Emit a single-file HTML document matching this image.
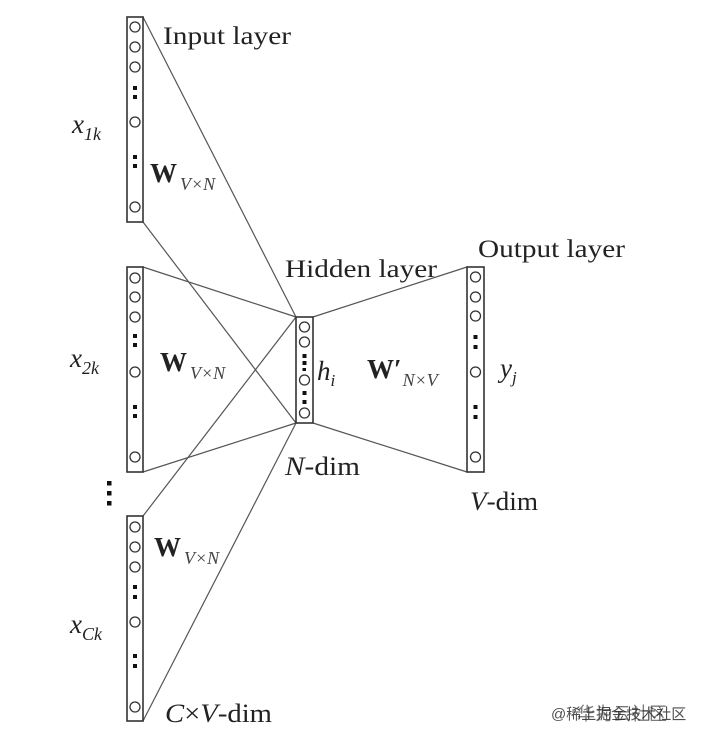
<!DOCTYPE html>
<html><head><meta charset="utf-8"><style>
html,body{margin:0;padding:0;background:#fff;width:702px;height:739px;overflow:hidden}
svg{display:block}
text{font-family:"Liberation Serif",serif;fill:#222}
</style></head><body>
<svg width="702" height="739" viewBox="0 0 702 739" xmlns="http://www.w3.org/2000/svg">
<g stroke="#555" stroke-width="1.2" fill="none">
<line x1="143" y1="17" x2="296" y2="317"/>
<line x1="143" y1="222" x2="296" y2="423"/>
<line x1="143" y1="267" x2="296" y2="317"/>
<line x1="143" y1="472" x2="296" y2="423"/>
<line x1="143" y1="516" x2="296" y2="317"/>
<line x1="143" y1="721" x2="296" y2="423"/>
<line x1="313" y1="317" x2="467" y2="267"/>
<line x1="313" y1="423" x2="467" y2="472"/>
</g>
<g stroke="#333" stroke-width="1.6" fill="#fff">
<rect x="127" y="17" width="16" height="205"/>
<rect x="127" y="267" width="16" height="205"/>
<rect x="127" y="516" width="16" height="205"/>
<rect x="296" y="317" width="17" height="106"/>
<rect x="467" y="267" width="17" height="205"/>
</g>
<g stroke="#333" stroke-width="1.3" fill="none">
<circle cx="135" cy="27" r="5"/><circle cx="135" cy="47" r="5"/><circle cx="135" cy="67" r="5"/><circle cx="135" cy="122" r="5"/><circle cx="135" cy="207" r="5"/>
<circle cx="135" cy="278" r="5"/><circle cx="135" cy="297" r="5"/><circle cx="135" cy="317" r="5"/><circle cx="135" cy="372" r="5"/><circle cx="135" cy="457" r="5"/>
<circle cx="135" cy="527" r="5"/><circle cx="135" cy="547" r="5"/><circle cx="135" cy="567" r="5"/><circle cx="135" cy="622" r="5"/><circle cx="135" cy="707" r="5"/>
<circle cx="304.5" cy="327" r="5"/><circle cx="304.5" cy="342" r="5"/><circle cx="304.5" cy="380" r="5"/><circle cx="304.5" cy="413" r="5"/>
<circle cx="475.5" cy="277" r="5"/><circle cx="475.5" cy="297" r="5"/><circle cx="475.5" cy="316" r="5"/><circle cx="475.5" cy="372" r="5"/><circle cx="475.5" cy="457" r="5"/>
</g>
<g fill="#111">
<rect x="133" y="86" width="4" height="4"/><rect x="133" y="95" width="4" height="4"/>
<rect x="133" y="155" width="4" height="4"/><rect x="133" y="164" width="4" height="4"/>
<rect x="133" y="334" width="4" height="4"/><rect x="133" y="343" width="4" height="4"/>
<rect x="133" y="405" width="4" height="4"/><rect x="133" y="414" width="4" height="4"/>
<rect x="133" y="585" width="4" height="4"/><rect x="133" y="595" width="4" height="4"/>
<rect x="133" y="654" width="4" height="4"/><rect x="133" y="664" width="4" height="4"/>
<rect x="302.5" y="354" width="4" height="4"/><rect x="302.5" y="361" width="4" height="4"/><rect x="302.5" y="368" width="3.5" height="3"/>
<rect x="302.5" y="391" width="4" height="4"/><rect x="302.5" y="400" width="4" height="4"/>
<rect x="473.5" y="335" width="4" height="4"/><rect x="473.5" y="345" width="4" height="4"/>
<rect x="473.5" y="405" width="4" height="4"/><rect x="473.5" y="415" width="4" height="4"/>
<rect x="107" y="481" width="4.5" height="4.5"/><rect x="107" y="491" width="4.5" height="4.5"/><rect x="107" y="501" width="4.5" height="4.5"/>
</g>
<text x="163" y="44" font-size="25" textLength="128" lengthAdjust="spacingAndGlyphs">Input layer</text>
<text x="285" y="277" font-size="25" textLength="152" lengthAdjust="spacingAndGlyphs">Hidden layer</text>
<text x="478" y="257" font-size="25" textLength="147" lengthAdjust="spacingAndGlyphs">Output layer</text>
<text x="72" y="133" font-size="27" font-style="italic">x<tspan font-size="18" dy="7">1k</tspan></text>
<text x="70" y="367" font-size="27" font-style="italic">x<tspan font-size="18" dy="7">2k</tspan></text>
<text x="70" y="633" font-size="27" font-style="italic">x<tspan font-size="18" dy="7">Ck</tspan></text>
<text x="150" y="182" font-size="27" font-weight="bold">W<tspan font-size="18" font-weight="normal" font-style="italic" fill="#444" dy="8" dx="3">V×N</tspan></text>
<text x="160" y="371" font-size="27" font-weight="bold">W<tspan font-size="18" font-weight="normal" font-style="italic" fill="#444" dy="8" dx="3">V×N</tspan></text>
<text x="154" y="556" font-size="27" font-weight="bold">W<tspan font-size="18" font-weight="normal" font-style="italic" fill="#444" dy="8" dx="3">V×N</tspan></text>
<text x="367" y="378" font-size="27" font-weight="bold">W′<tspan font-size="18" font-weight="normal" font-style="italic" fill="#444" dy="8" dx="1">N×V</tspan></text>
<text x="317" y="380" font-size="27" font-style="italic">h<tspan font-size="17" dy="6">i</tspan></text>
<text x="500" y="377" font-size="27" font-style="italic">y<tspan font-size="17" dy="6">j</tspan></text>
<text x="285" y="475" font-size="26" textLength="75" lengthAdjust="spacingAndGlyphs"><tspan font-style="italic">N</tspan>-dim</text>
<text x="470" y="510" font-size="26" textLength="68" lengthAdjust="spacingAndGlyphs"><tspan font-style="italic">V</tspan>-dim</text>
<text x="165" y="722" font-size="26" textLength="107" lengthAdjust="spacingAndGlyphs"><tspan font-style="italic">C</tspan>×<tspan font-style="italic">V</tspan>-dim</text>
<text x="551" y="719" font-size="15" style="font-family:'Liberation Sans','Noto Sans CJK SC',sans-serif" fill="#999" opacity="0.8">@稀土掘金技术社区</text>
<text x="577" y="720" font-size="18" style="font-family:'Liberation Sans','Noto Sans CJK SC',sans-serif" fill="#888" opacity="0.6">华为云社区</text>
</svg>
</body></html>
